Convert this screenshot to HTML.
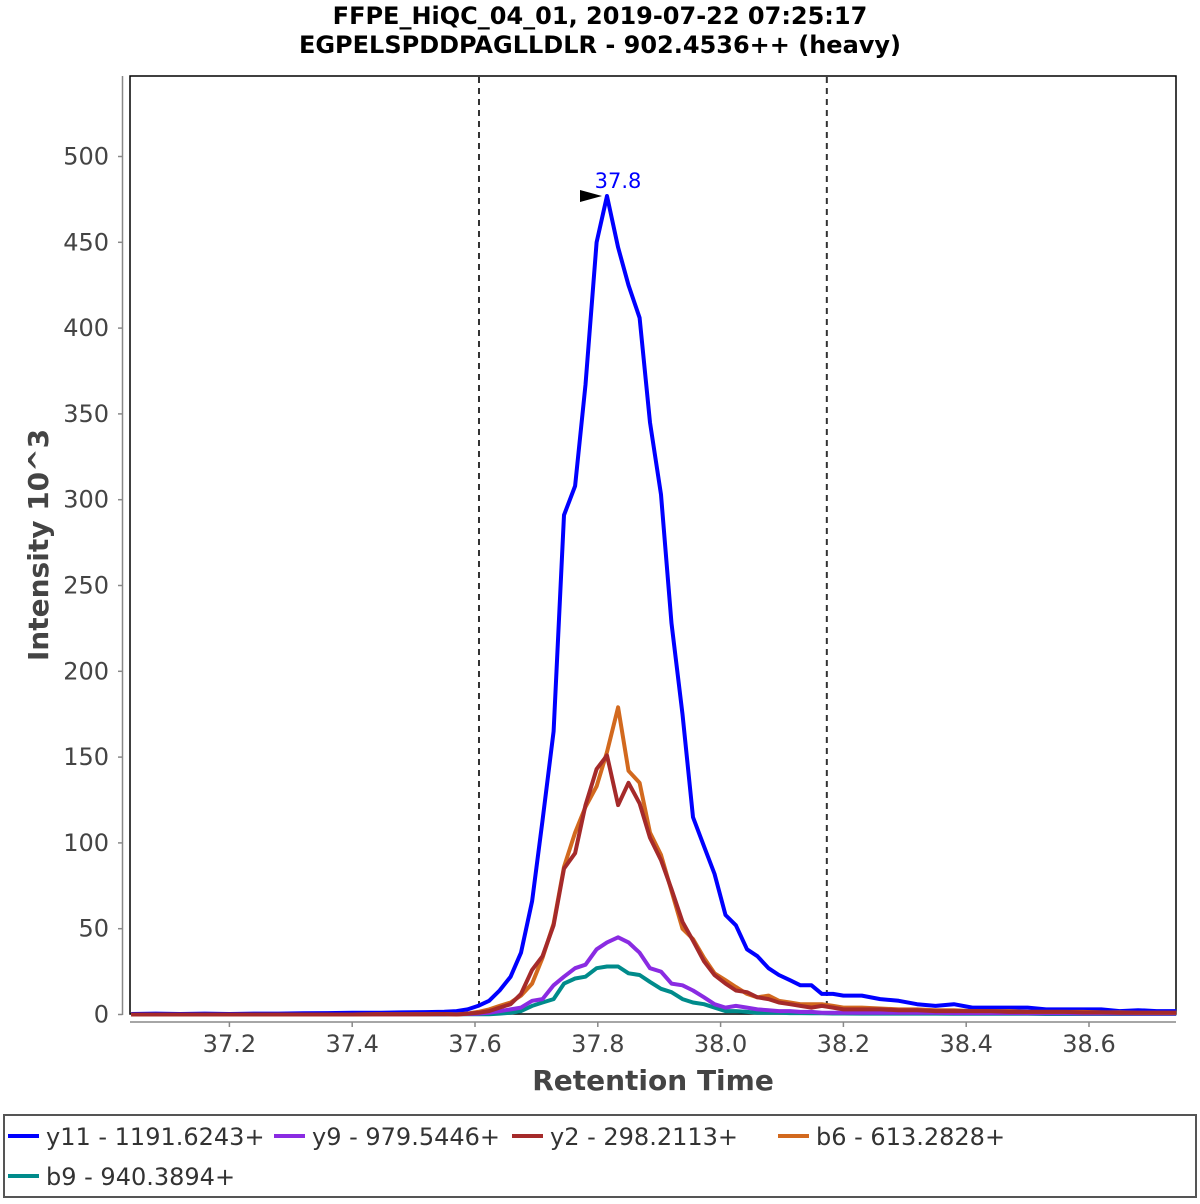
<!DOCTYPE html>
<html><head><meta charset="utf-8">
<style>
body{margin:0;background:#fff;width:1200px;height:1200px;overflow:hidden;font-family:"DejaVu Sans","Liberation Sans",sans-serif;}
svg text{font-family:"DejaVu Sans","Liberation Sans",sans-serif;}
</style></head>
<body>
<svg id="chart" width="1200" height="1200" xmlns="http://www.w3.org/2000/svg">
<rect width="1200" height="1200" fill="#fff"/>
<text x="600" y="24" text-anchor="middle" font-size="24" font-weight="bold" fill="#000">FFPE_HiQC_04_01, 2019-07-22 07:25:17</text>
<text x="600" y="53" text-anchor="middle" font-size="24" font-weight="bold" fill="#000">EGPELSPDDPAGLLDLR - 902.4536++ (heavy)</text>
<g id="yaxis"></g>
<g id="xaxis"></g>
<text transform="translate(48,545) rotate(-90)" text-anchor="middle" font-size="28" font-weight="bold" fill="#444">Intensity 10^3</text>
<text x="653" y="1090" text-anchor="middle" font-size="28" font-weight="bold" fill="#444">Retention Time</text>
<rect x="130" y="76" width="1046" height="938" fill="#fff" stroke="#000" stroke-width="1.5"/>
<g id="marks"></g>
<rect x="4" y="1115" width="1192" height="82" fill="#fff" stroke="#555" stroke-width="2"/>
<g id="legend"></g>
</svg>
<script>
const rt = [37.04,37.08,37.12,37.16,37.20,37.24,37.28,37.32,37.36,37.40,37.44,37.48,37.52,37.55,
37.570,37.588,37.605,37.623,37.640,37.658,37.675,37.693,37.710,37.728,37.745,37.763,37.780,37.798,37.815,37.833,37.850,37.868,37.885,37.903,37.920,37.938,37.955,37.973,37.990,38.008,38.025,38.043,38.060,38.078,38.095,38.113,38.130,38.148,38.165,38.183,38.200,
38.23,38.26,38.29,38.32,38.35,38.38,38.41,38.44,38.47,38.50,38.53,38.56,38.59,38.62,38.65,38.68,38.71,38.742];
const y11 = [0.3,0.5,0.3,0.5,0.3,0.5,0.5,0.7,0.8,1,1,1.2,1.4,1.6,
2,3,5,8,14,22,36,66,113,165,291,308,367,450,477,447,425,406,345,303,228,175,115,98,82,58,52,38,34,27,23,20,17,17,12,12,11,
11,9,8,6,5,6,4,4,4,4,3,3,3,3,2,2.5,2,2];
const y9 = [0,0,0,0,0,0,0,0,0,0,0,0,0.1,0.1,
0.2,0.3,0.5,1,2,3,4,8,9,17,22,27,29,38,42,45,42,36,27,25,18,17,14,10,6,4,5,4,3,2.5,2,2,1.5,1.5,1,1,1,
1,1,1,1,1,0.8,0.8,0.8,0.8,0.7,0.7,0.7,0.6,0.6,0.6,0.5,0.5,0.5];
const y2 = [0,0,0,0,0,0,0,0,0,0,0.1,0.1,0.2,0.3,
0,0.5,1,2,4,6,12,26,34,52,85,94,122,143,151,122,135,123,103,90,73,54,43,31,23,18,14,13,10,9,7,6,5,4,5,4,3,
3,3,2.5,2.5,2,2,2,2,1.5,1.5,1.5,1.5,1.2,1.2,1,1,1,1];
const b6 = [0,0,0,0,0,0,0,0,0,0,0.1,0.1,0.2,0.3,
0,0.5,1.5,3,5,7,11,18,33,53,86,106,121,133,153,179,142,135,106,93,72,50,44,33,24,20,16,12,10,11,8,7,6,6,6,5,4,
4,3.5,3,3,2.5,2.5,2,2,2,1.5,1.5,1.5,1.5,1.2,1.2,1,1,1];
const b9 = [0,0,0,0,0,0,0,0,0,0,0,0,0,0,
0.2,0.2,0.2,0.2,0.5,1,2,5,7,9,18,21,22,27,28,28,24,23,19,15,13,9,7,6,4,2,2,1.5,1,1,1,0.8,0.8,0.7,0.7,0.6,0.6,
0.5,0.5,0.5,0.5,0.5,0.4,0.4,0.4,0.4,0.4,0.3,0.3,0.3,0.3,0.3,0.3,0.3,0.3];
const xTicks = [37.2,37.4,37.6,37.8,38.0,38.2,38.4,38.6];
const xTickLabels = ["37.2","37.4","37.6","37.8","38.0","38.2","38.4","38.6"];
const yTicks = [0,50,100,150,200,250,300,350,400,450,500];
const boundaries = [37.6065,38.173];
const peakRt = 37.815, peakVal = 477, peakLabel = "37.8";
const seriesNames = ["y11 - 1191.6243+","y9 - 979.5446+","y2 - 298.2113+","b6 - 613.2828+","b9 - 940.3894+"];
const seriesColors = ["#0000ff","#8a2be2","#a52a2a","#d2691e","#008b8b"];
const seriesData = [y11,y9,y2,b6,b9];
const drawOrder = [0,4,1,3,2];

const NS="http://www.w3.org/2000/svg";
const X = t => 475 + (t-37.6)*614;
const Y = v => 1014.5 - v*1.716;
function mk(tag, attrs, parent){const e=document.createElementNS(NS,tag);for(const k in attrs)e.setAttribute(k,attrs[k]);parent.appendChild(e);return e;}

const ya=document.getElementById('yaxis');
const yl=mk('line',{x1:122.5,y1:76,x2:122.5,y2:1015,stroke:'#888','stroke-width':1.5},ya);


yTicks.forEach(v=>{
  const tk=mk('line',{x1:118,y1:Y(v),x2:122.5,y2:Y(v),stroke:'#888','stroke-width':1.5},ya);
  
  
  const tx=mk('text',{x:109,y:Y(v)+8,'text-anchor':'end','font-size':24,fill:'#444'},ya);
  
  
  tx.textContent=String(v);
});
const xa=document.getElementById('xaxis');
const xl=mk('line',{x1:130,y1:1022,x2:1176,y2:1022,stroke:'#888','stroke-width':1.5},xa);


xTicks.forEach((t,i)=>{
  const tk=mk('line',{x1:X(t),y1:1022,x2:X(t),y2:1027,stroke:'#888','stroke-width':1.5},xa);
  
  
  const tx=mk('text',{x:X(t),y:1052,'text-anchor':'middle','font-size':24,fill:'#444'},xa);
  
  
  tx.textContent=xTickLabels[i];
});
const mg=document.getElementById('marks');
boundaries.forEach(b=>{
  const l=mk('line',{x1:X(b),y1:77,x2:X(b),y2:1013,stroke:'#333','stroke-width':2,'stroke-dasharray':'6,5'},mg);
  
  
});
drawOrder.forEach(si=>{
  const d=seriesData[si].map((v,i)=>(i?'L':'M')+X(rt[i]).toFixed(1)+','+Y(v).toFixed(1)).join(' ');
  const p=mk('path',{d:d,fill:'none',stroke:seriesColors[si],'stroke-width':4,'stroke-linejoin':'round'},mg);
  
  
});
const px=X(peakRt), py=Y(peakVal);
const arr=mk('polygon',{points:(px-5)+','+py+' '+(px-27)+','+(py-6)+' '+(px-27)+','+(py+6),fill:'#000'},mg);


const pl=mk('text',{x:px+11,y:py-8,'text-anchor':'middle','font-size':21,fill:'#0000ff'},mg);


pl.textContent=peakLabel;

const lg=document.getElementById('legend');
const lx=[8,274,512,778,8], ly=[1136,1136,1136,1136,1176];
seriesNames.forEach((n,i)=>{
  const g=mk('g',{},lg);
  
  
  mk('line',{x1:lx[i],y1:ly[i],x2:lx[i]+31,y2:ly[i],stroke:seriesColors[i],'stroke-width':4},g);
  const t=mk('text',{x:lx[i]+38,y:ly[i]+9,'font-size':24,fill:'#333'},g);
  t.textContent=n;
});
</script>
</body></html>
